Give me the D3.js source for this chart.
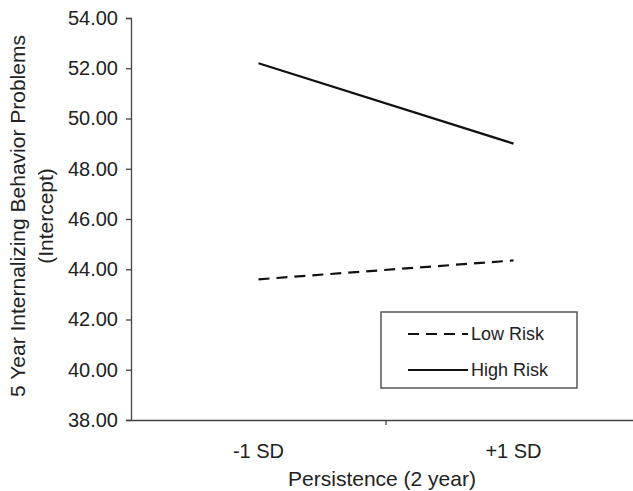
<!DOCTYPE html>
<html>
<head>
<meta charset="utf-8">
<script src="https://cdn.jsdelivr.net/npm/d3@7"></script>
<style>
  body { margin: 0; background: #fff; }
  text { font-family: "Liberation Sans", Arial, sans-serif; fill: #222; }
</style>
</head>
<body>
<div id="wrapper"></div>
<script>
const categories = ["-1 SD", "+1 SD"];
const lowRisk = [43.6, 44.35];
const highRisk = [52.2, 49.0];
const yTicks = [38, 40, 42, 44, 46, 48, 50, 52, 54];

const width = 633, height = 491;
const margin = { top: 18, left: 131, bottom: 71, right: -8 };

const svg = d3.select("#wrapper").append("svg")
    .attr("width", width)
    .attr("height", height);

const yScaler = d3.scaleLinear()
    .domain([38, 54])
    .range([height - margin.bottom, margin.top]);

const xScaler = d3.scaleBand()
    .domain(categories)
    .range([margin.left, width - margin.right]);

const xCenter = (i) => xScaler(categories[i]) + xScaler.bandwidth() / 2;

// y axis
const yAxis = d3.axisLeft(yScaler)
    .tickValues(yTicks)
    .tickSize(5)
    .tickPadding(8)
    .tickFormat(d3.format(".2f"));
const gy = svg.append("g")
    .attr("transform", `translate(${margin.left},0)`)
    .call(yAxis);
gy.selectAll("text").style("font-size", "20px");
gy.selectAll("line, path").attr("stroke", "#444").attr("stroke-width", 1.3);

// x axis (ticks between categories, like Excel)
const xAxis = d3.axisBottom(xScaler).tickSize(0).tickPadding(24);
const gx = svg.append("g")
    .attr("transform", `translate(0,${yScaler(38)})`)
    .call(xAxis);
gx.select("path").attr("stroke", "#444").attr("stroke-width", 1.3);
gx.selectAll("text").style("font-size", "20px");
gx.selectAll(".sep")
    .data(categories.slice(1))
    .join("line")
    .attr("x1", d => xScaler(d))
    .attr("x2", d => xScaler(d))
    .attr("y1", 0)
    .attr("y2", 5)
    .attr("stroke", "#444")
    .attr("stroke-width", 1.3);

// lines
const lineGen = d3.line()
    .x((d, i) => xCenter(i))
    .y(d => yScaler(d));

svg.append("path")
    .attr("d", lineGen(highRisk))
    .attr("fill", "none")
    .attr("stroke", "#111")
    .attr("stroke-width", 2.2);

svg.append("path")
    .attr("d", lineGen(lowRisk))
    .attr("fill", "none")
    .attr("stroke", "#111")
    .attr("stroke-width", 2.2)
    .attr("stroke-dasharray", "11,7");

// axis titles
svg.append("text")
    .attr("x", 382)
    .attr("y", 486)
    .attr("text-anchor", "middle")
    .style("font-size", "21px")
    .text("Persistence (2 year)");

const yTitle = svg.append("text")
    .attr("transform", `translate(0,216) rotate(-90)`)
    .attr("text-anchor", "middle")
    .style("font-size", "21px");
yTitle.append("tspan").attr("x", 0).attr("y", 25).text("5 Year Internalizing Behavior Problems");
yTitle.append("tspan").attr("x", 0).attr("y", 53).text("(Intercept)");

// legend
const legend = svg.append("g").attr("transform", "translate(381,312)");
legend.append("rect")
    .attr("width", 196)
    .attr("height", 76)
    .attr("fill", "#fff")
    .attr("stroke", "#555")
    .attr("stroke-width", 1.5);
const legendItems = [
    { name: "Low Risk", dash: "11,7" },
    { name: "High Risk", dash: null }
];
legendItems.forEach((d, i) => {
    const yy = 22 + i * 36;
    legend.append("line")
        .attr("x1", 27).attr("x2", 87)
        .attr("y1", yy).attr("y2", yy)
        .attr("stroke", "#111")
        .attr("stroke-width", 2.2)
        .attr("stroke-dasharray", d.dash);
    legend.append("text")
        .attr("x", 90)
        .attr("y", yy + 6)
        .style("font-size", "18px")
        .text(d.name);
});
</script>
</body>
</html>
